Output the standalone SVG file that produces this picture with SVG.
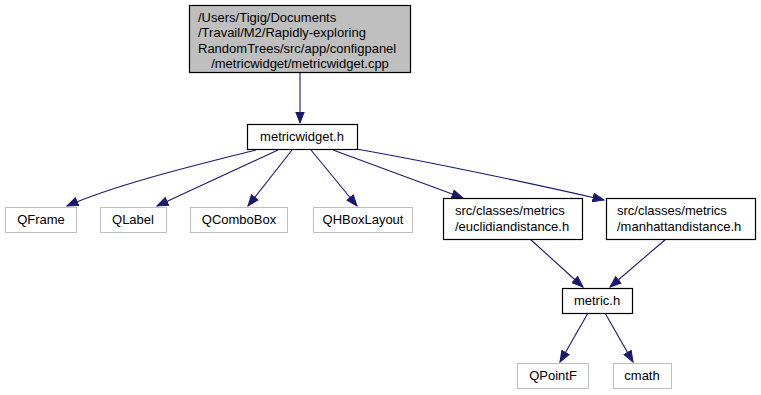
<svg xmlns="http://www.w3.org/2000/svg" width="761" height="395" viewBox="0 0 761 395">
  <style>
    text { font-family: "Liberation Sans", Arial, sans-serif; font-size: 13px; fill: #000; }
    .mid { text-anchor: middle; }
    .node { fill: #fff; stroke: #000; stroke-width: 1.2; }
    .ext { fill: #fff; stroke: #bfbfbf; stroke-width: 1; }
    .root { fill: #bfbfbf; stroke: #000; stroke-width: 1.2; }
    .edge { fill: none; stroke: #191970; stroke-width: 1.1; marker-end: url(#arrow); }
  </style>
  <defs>
    <marker id="arrow" markerUnits="userSpaceOnUse" markerWidth="13" markerHeight="10" refX="11.5" refY="5" orient="auto">
      <path d="M0.5,0.8 L11.5,5 L0.5,9.2 z" fill="#191970" stroke="#191970" stroke-width="1"/>
    </marker>
  </defs>

  <g id="edges">
    <path class="edge" d="M300,72 L300,123"/>
    <path class="edge" d="M256,150 C205,163 120,183 67,206"/>
    <path class="edge" d="M278,150 L157,206"/>
    <path class="edge" d="M292,150 L248,206"/>
    <path class="edge" d="M311,150 L357,206"/>
    <path class="edge" d="M333,150 L463,198"/>
    <path class="edge" d="M356,149 C420,160 530,183 604,200"/>
    <path class="edge" d="M530,239 L583,287"/>
    <path class="edge" d="M666,239 L610,287"/>
    <path class="edge" d="M588,313 L560,362"/>
    <path class="edge" d="M605,313 L633,362"/>
  </g>

  <g id="node-metricwidget-cpp">
    <rect class="root" x="189.5" y="5.5" width="221" height="67"/>
    <text x="198" y="22">/Users/Tigig/Documents</text>
    <text x="198" y="37">/Travail/M2/Rapidly-exploring</text>
    <text x="198" y="53">RandomTrees/src/app/configpanel</text>
    <text class="mid" x="300" y="68">/metricwidget/metricwidget.cpp</text>
  </g>

  <g id="node-metricwidget-h">
    <rect class="node" x="247.5" y="124.5" width="110" height="25"/>
    <text class="mid" x="302" y="141">metricwidget.h</text>
  </g>

  <g id="node-qframe">
    <rect class="ext" x="5.5" y="207.5" width="71" height="25"/>
    <text class="mid" x="41" y="224">QFrame</text>
  </g>

  <g id="node-qlabel">
    <rect class="ext" x="100.5" y="207.5" width="66" height="25"/>
    <text class="mid" x="133" y="224">QLabel</text>
  </g>

  <g id="node-qcombobox">
    <rect class="ext" x="190.5" y="207.5" width="97" height="25"/>
    <text class="mid" x="239" y="224">QComboBox</text>
  </g>

  <g id="node-qhboxlayout">
    <rect class="ext" x="313.5" y="207.5" width="99" height="25"/>
    <text class="mid" x="363" y="224">QHBoxLayout</text>
  </g>

  <g id="node-euclidiandistance">
    <rect class="node" x="443.5" y="198.5" width="139" height="41"/>
    <text x="455" y="215">src/classes/metrics</text>
    <text x="455" y="231">/euclidiandistance.h</text>
  </g>

  <g id="node-manhattandistance">
    <rect class="node" x="606.5" y="198.5" width="149" height="41"/>
    <text x="617" y="215">src/classes/metrics</text>
    <text x="617" y="231">/manhattandistance.h</text>
  </g>

  <g id="node-metric-h">
    <rect class="node" x="562.5" y="288.5" width="70" height="25"/>
    <text class="mid" x="597" y="305">metric.h</text>
  </g>

  <g id="node-qpointf">
    <rect class="ext" x="517.5" y="363.5" width="71" height="25"/>
    <text class="mid" x="553" y="380">QPointF</text>
  </g>

  <g id="node-cmath">
    <rect class="ext" x="613.5" y="363.5" width="58" height="25"/>
    <text class="mid" x="642" y="380">cmath</text>
  </g>
</svg>
